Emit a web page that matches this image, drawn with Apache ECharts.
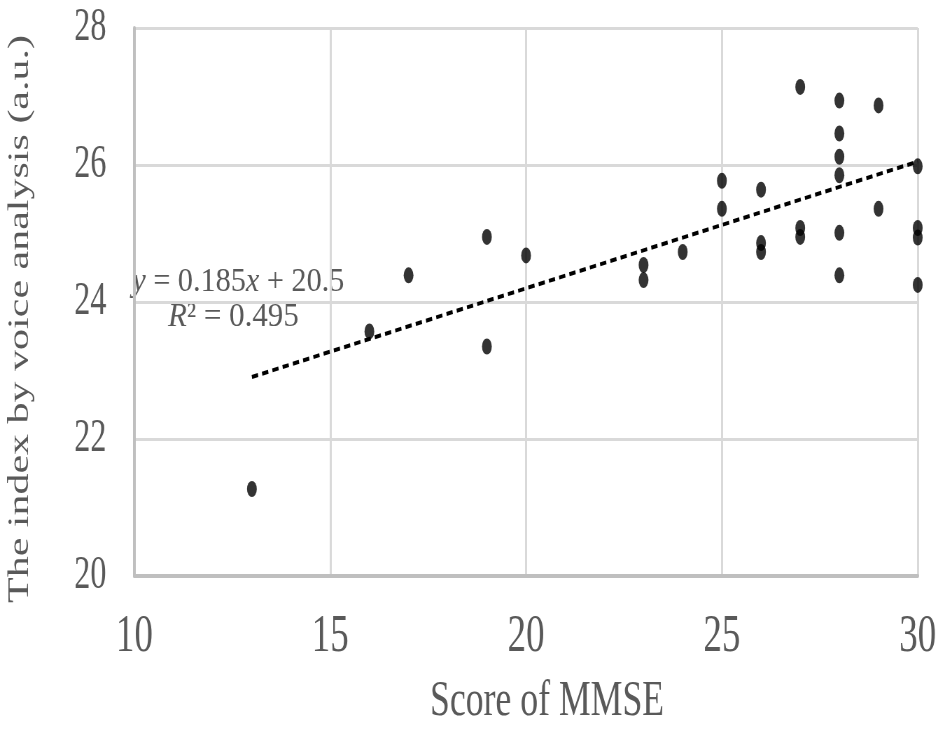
<!DOCTYPE html>
<html>
<head>
<meta charset="utf-8">
<style>
  html, body { margin: 0; padding: 0; background: #fff; overflow: hidden; width: 940px; height: 732px; }
  #chart { width: 1343px; height: 732px; transform: scaleX(0.7); transform-origin: 0 0; }
</style>
<script src="https://cdn.jsdelivr.net/npm/echarts@6/dist/echarts.min.js"></script>
</head>
<body>
<div id="chart"></div>
<script>
// MMSE score (x) and voice-analysis index (y) for each subject
var mmse = [13, 16, 17, 19, 19, 20, 23, 23, 24, 25, 25, 26, 26, 26, 27, 27, 27, 28, 28, 28, 28, 28, 28, 29, 29, 30, 30, 30, 30];
var voiceIndex = [21.27, 23.57, 24.39, 24.95, 23.35, 24.68, 24.54, 24.32, 24.73, 25.77, 25.36, 25.64, 24.86, 24.73, 27.14, 25.08, 24.95, 26.94, 26.46, 26.12, 25.85, 25.01, 24.39, 26.87, 25.36, 25.98, 25.08, 24.94, 24.25];
// Linear trend line end points (y = 0.185x + 20.5)
var trendX = [13, 30];
var trendY = [22.905, 26.05];
var xTicks = [10, 15, 20, 25, 30];
var yTicks = [20, 22, 24, 26, 28];
var slopeText = '0.185';
var interceptText = '20.5';
var r2Text = '0.495';

var points = mmse.map(function (v, i) { return [v, voiceIndex[i]]; });
var trend = trendX.map(function (v, i) { return [v, trendY[i]]; });

var chart = echarts.init(document.getElementById('chart'), null, { renderer: 'canvas' });
var serif = '"Liberation Serif", "Times New Roman", serif';
var annColor = '#595959';
chart.setOption({
  animation: false,
  backgroundColor: '#ffffff',
  grid: { left: 183, right: 32, top: 28, bottom: 152, containLabel: false },
  xAxis: {
    type: 'value',
    min: xTicks[0], max: xTicks[xTicks.length - 1], interval: 5,
    name: 'Score of MMSE',
    nameLocation: 'middle',
    nameGap: 100,
    nameTextStyle: { fontFamily: serif, fontSize: 51, color: '#595959', padding: [0, 0, 0, 60] },
    axisLine: { show: true, onZero: false, lineStyle: { color: '#bfbfbf', width: 4 } },
    axisTick: { show: false },
    axisLabel: { fontFamily: serif, fontSize: 53, color: '#595959', margin: 35 },
    splitLine: { show: true, lineStyle: { color: '#d9d9d9', width: 3 } }
  },
  yAxis: {
    type: 'value',
    min: yTicks[0], max: yTicks[yTicks.length - 1], interval: 2,
    name: 'The index by voice analysis (a.u.)',
    nameLocation: 'middle',
    nameGap: 142,
    nameRotate: 90,
    nameTextStyle: { fontFamily: serif, fontSize: 42, color: '#595959', padding: [0, 34, 0, 0] },
    axisLine: { show: true, onZero: false, lineStyle: { color: '#bfbfbf', width: 4 } },
    axisTick: { show: false },
    axisLabel: { fontFamily: serif, fontSize: 46, color: '#595959', margin: 40, padding: [0, 0, 12, 0] },
    splitLine: { show: true, lineStyle: { color: '#d9d9d9', width: 3 } }
  },
  series: [
    {
      type: 'line',
      data: trend,
      symbol: 'none',
      z: 3,
      lineStyle: { color: '#000000', width: 4, type: [9, 6], cap: 'butt' },
      silent: true
    },
    {
      type: 'scatter',
      data: points,
      symbol: 'circle',
      symbolSize: [14, 16],
      z: 4,
      itemStyle: { color: '#000000' }
    }
  ],
  graphic: [
    {
      type: 'text',
      x: 189, y: 265,
      scaleX: 1.27,
      style: {
        text: '{i|y} = ' + slopeText + '{i|x} + ' + interceptText,
        rich: {
          i: { fontFamily: serif, fontStyle: 'italic', fontSize: 34, fill: annColor }
        },
        font: '34px ' + serif,
        fill: annColor
      }
    },
    {
      type: 'text',
      x: 240, y: 300,
      scaleX: 1.3,
      style: {
        text: '{i|R}² = ' + r2Text,
        rich: {
          i: { fontFamily: serif, fontStyle: 'italic', fontSize: 34, fill: annColor }
        },
        font: '34px ' + serif,
        fill: annColor
      }
    }
  ]
});
</script>
</body>
</html>
